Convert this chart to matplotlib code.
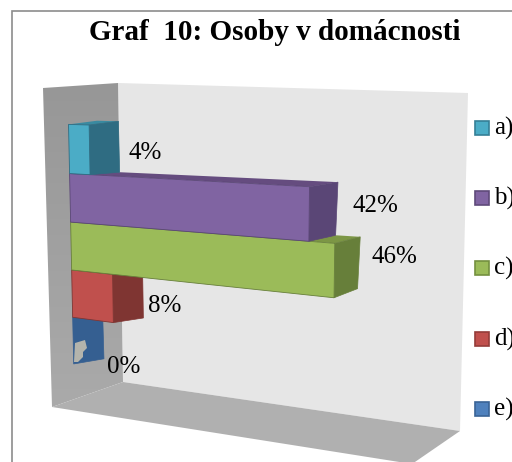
import numpy as np
import matplotlib
matplotlib.use('Agg')
import matplotlib.pyplot as plt
from matplotlib.colors import LinearSegmentedColormap
from matplotlib.patches import Polygon, Rectangle

plt.rcParams['font.family'] = ['Liberation Serif', 'DejaVu Serif']

categories = ['a)', 'b)', 'c)', 'd)', 'e)']
values = [4, 42, 46, 8, 0]
labels = ['4%', '42%', '46%', '8%', '0%']
front_colors = ['#4BACC6', '#8064A2', '#9BBB59', '#C0504D', '#4F81BD']
side_colors = ['#2F6C82', '#5A4676', '#677F3A', '#7F3532', '#355F91']
top_colors = ['#3A8AA0', '#654C7F', '#7C9645', '#99403D', '#3F6797']
legend_edges = ['#357F96', '#5F4A7A', '#74903F', '#943C39', '#3A6496']

# (value, slot) -> pixel anchors for the front and back planes of the bars
front_anchors = [(0, 0, 68, 123), (4, 0, 89, 126), (4, 1, 90, 175), (0, 1, 70, 174),
                 (42, 1, 309, 186), (42, 2, 309, 242), (0, 2, 71, 222), (46, 2, 335, 243),
                 (46, 3, 334, 298), (0, 3, 72, 270), (8, 3, 113, 275), (8, 4, 114, 322),
                 (0, 4, 72, 317), (0, 5, 73, 364)]
back_anchors = [(0, 0, 97, 120), (4, 0, 119, 121), (4, 1, 120, 170),
                (42, 1, 336, 183), (42, 2, 335, 235), (46, 2, 360, 236),
                (46, 3, 360, 289), (8, 3, 143, 277), (8, 4, 143, 313),
                (0, 4, 103, 320), (0, 5, 103, 355)]


def fit_plane(anchors):
    rows, rhs = [], []
    for v, s, x, y in anchors:
        rows.append([v, s, 1, 0, 0, 0, -v * x, -s * x])
        rows.append([0, 0, 0, v, s, 1, -v * y, -s * y])
        rhs += [x, y]
    h = np.linalg.lstsq(np.array(rows, float), np.array(rhs, float), rcond=None)[0]
    return np.append(h, 1).reshape(3, 3)


def project(h, v, s):
    p = h @ np.array([v, s, 1.0])
    return p[0] / p[2], p[1] / p[2]


hf = fit_plane(front_anchors)
hb = fit_plane(back_anchors)

fig = plt.figure(figsize=(5.12, 4.62), dpi=100)
ax = fig.add_axes([0, 0, 1, 1])
ax.axis('off')

# chart frame, cut by the image on the right and at the bottom
ax.add_patch(Rectangle((12, 10.5), 520, 470, fc='white', ec='#8C8C8C', lw=1.2))

# walls
ax.add_patch(Polygon([(118, 83), (468, 93), (460, 431), (123, 382)], fc='#E6E6E6', ec='none'))
wall = Polygon([(43, 88), (118, 83), (123, 382), (52, 407)], fc='none', ec='none')
ax.add_patch(wall)
wall_cmap = LinearSegmentedColormap.from_list('wall', ['#979797', '#AAAAAA'])
shade = ax.imshow(np.linspace(0, 1, 64).reshape(-1, 1), cmap=wall_cmap, aspect='auto',
                  extent=(40, 126, 410, 80), zorder=1)
shade.set_clip_path(wall)
ax.add_patch(Polygon([(52, 407), (123, 382), (460, 431), (412, 464)], fc='#B0B0B0', ec='none', zorder=1))

# bottom bar first, upper ones overlap it
for i in range(len(values) - 1, -1, -1):
    v = values[i]
    f00 = project(hf, 0, i)
    f10 = project(hf, v, i)
    f11 = project(hf, v, i + 1)
    f01 = project(hf, 0, i + 1)
    b00 = project(hb, 0, i)
    b10 = project(hb, v, i)
    b11 = project(hb, v, i + 1)
    ax.add_patch(Polygon([f00, f10, b10, b00], fc=top_colors[i], ec='none', zorder=2))
    ax.add_patch(Polygon([f10, b10, b11, f11], fc=side_colors[i], ec=side_colors[i], lw=0.5, zorder=2))
    if v > 0:
        ax.add_patch(Polygon([f00, f10, f11, f01], fc=front_colors[i], ec=side_colors[i], lw=0.6, zorder=2))

# light patch showing through the empty bar
ax.add_patch(Polygon([(75, 343), (85, 340), (87, 348), (83, 352), (83, 357), (78, 362), (74, 362)],
                     fc='#B4B4AC', ec='none', zorder=2))

# data labels, offset from the bar end on the back plane
label_offsets = [(9, 6), (16, -3), (13, -6), (5, 11), (4, 30)]
for i, v in enumerate(values):
    x, y = project(hb, v, i + 0.5)
    ax.text(x + label_offsets[i][0], y + label_offsets[i][1], labels[i], fontsize=18,
            ha='left', va='center', color='black', zorder=3)

# legend
legend_y = [128, 198, 268, 339, 409]
for i, name in enumerate(categories):
    ax.add_patch(Rectangle((475, legend_y[i] - 7), 14, 14, fc=front_colors[i], ec=legend_edges[i], lw=1.2, zorder=3))
    ax.text(494, legend_y[i], name, fontsize=18, ha='left', va='center', color='black', zorder=3)

ax.text(275, 33, 'Graf  10: Osoby v domácnosti', fontsize=21, fontweight='bold',
        ha='center', va='center', color='black', zorder=3)

ax.set_xlim(0, 512)
ax.set_ylim(462, 0)

fig.savefig('out.png', dpi=100)
